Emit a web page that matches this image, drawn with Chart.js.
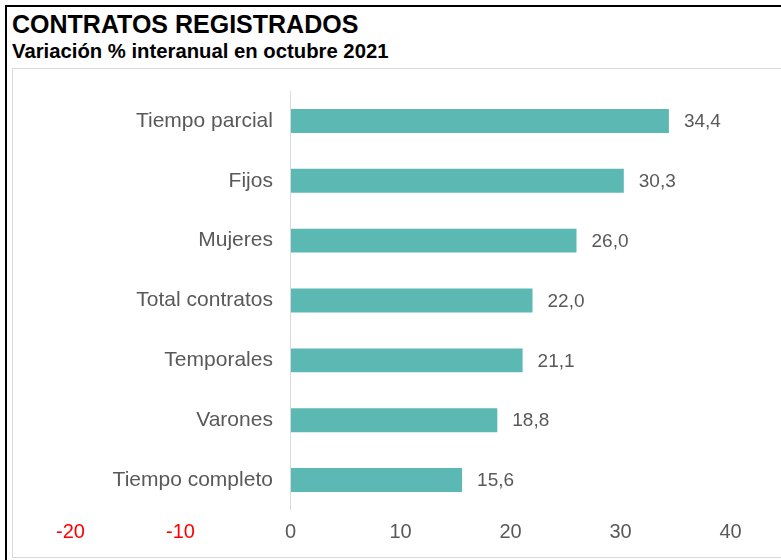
<!DOCTYPE html>
<html lang="es">
<head>
<meta charset="utf-8">
<title>Contratos registrados</title>
<script src="https://cdn.jsdelivr.net/npm/chart.js@4.4.1/dist/chart.umd.min.js"></script>
<style>
  html, body { margin: 0; padding: 0; background: #fff; }
  body { width: 781px; height: 560px; position: relative; overflow: hidden; font-family: "Liberation Sans", Arial, sans-serif; }
  #marco { position: absolute; left: 5px; top: 5px; width: 800px; height: 600px; border-left: 2px solid #000; border-top: 2px solid #000; }
  #area { position: absolute; left: 12px; top: 68px; width: 800px; height: 488px; border: 1px solid #d9d9d9; }
  .titulo { position: absolute; left: 12px; top: 12px; font-size: 25px; line-height: 1; font-weight: bold; color: #000; white-space: nowrap; }
  .subtitulo { position: absolute; left: 12px; top: 41px; font-size: 20.3px; line-height: 1; font-weight: bold; color: #000; white-space: nowrap; }
  #grafico { position: absolute; left: 0; top: 0; }
</style>
</head>
<body>
<div id="marco"></div>
<div id="area"></div>
<div class="titulo">CONTRATOS REGISTRADOS</div>
<div class="subtitulo">Variación % interanual en octubre 2021</div>
<canvas id="grafico" width="781" height="560"></canvas>
<script>
const categorias = ["Tiempo parcial", "Fijos", "Mujeres", "Total contratos", "Temporales", "Varones", "Tiempo completo"];
const variacion = [34.4, 30.3, 26.0, 22.0, 21.1, 18.8, 15.6];
const ejeMin = -20;
const ejeMax = 40;
const paso = 10;

const gris = "#595959";
const fuente = "'Liberation Sans', Arial, sans-serif";

function formatoES(v) {
  return v.toFixed(1).replace(".", ",");
}

// etiquetas de valor al final de cada barra
const etiquetasValor = {
  id: "etiquetasValor",
  afterDatasetsDraw(chart) {
    const ctx = chart.ctx;
    const meta = chart.getDatasetMeta(0);
    ctx.save();
    ctx.font = "19px " + fuente;
    ctx.fillStyle = gris;
    ctx.textAlign = "left";
    ctx.textBaseline = "middle";
    meta.data.forEach((barra, i) => {
      ctx.fillText(formatoES(variacion[i]), barra.x + 15, barra.y + 1);
    });
    ctx.restore();
  }
};

const ctx = document.getElementById("grafico").getContext("2d");
const grafico = new Chart(ctx, {
  type: "bar",
  data: {
    labels: categorias,
    datasets: [{
      label: "Variación %",
      data: variacion,
      backgroundColor: "#5cb8b2",
      borderWidth: 0,
      categoryPercentage: 0.8,
      barPercentage: 0.5
    }]
  },
  options: {
    indexAxis: "y",
    responsive: false,
    animation: false,
    layout: { padding: { left: 70.5, right: 50.5, top: 91, bottom: 6 } },
    plugins: {
      legend: { display: false },
      tooltip: { enabled: false }
    },
    scales: {
      x: {
        min: ejeMin,
        max: ejeMax,
        // solo la linea del cero
        grid: {
          drawTicks: false,
          lineWidth: 1,
          color: c => c.tick && c.tick.value === 0 ? "#d9d9d9" : "rgba(0,0,0,0)"
        },
        border: { display: false },
        ticks: {
          stepSize: paso,
          padding: 10,
          font: { size: 20, family: fuente },
          color: c => c.tick && c.tick.value < 0 ? "#ff0000" : gris
        }
      },
      y: {
        position: { x: -1.6 },
        afterFit: s => { s.width = 0; },
        grid: { display: false, drawTicks: false },
        border: { display: false },
        ticks: {
          padding: 0,
          font: { size: 21, family: fuente },
          color: gris
        }
      }
    }
  },
  plugins: [etiquetasValor]
});
</script>
</body>
</html>
